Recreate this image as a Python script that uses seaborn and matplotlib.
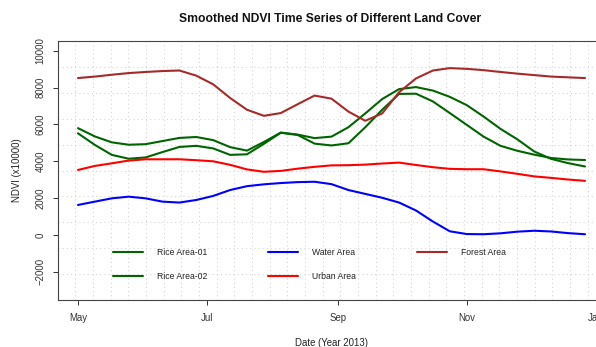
import matplotlib

matplotlib.use('Agg')

import numpy as np
import pandas as pd
import seaborn as sns
import matplotlib.dates as mdates
from matplotlib import pyplot as plt
from matplotlib.lines import Line2D

# 8-day composites, May 1 to Dec 27, 2013
dates = pd.date_range('2013-05-01', periods=31, freq='8D')

rice_01 = [5800, 5350, 5030, 4900, 4930, 5100, 5270, 5320, 5150, 4770, 4580,
           5050, 5560, 5450, 5260, 5340, 5850, 6600, 7380, 7920, 8030, 7840,
           7500, 7050, 6430, 5760, 5190, 4530, 4130, 3900, 3720]
rice_02 = [5520, 4890, 4350, 4140, 4210, 4500, 4780, 4840, 4700, 4350, 4380,
           4950, 5550, 5430, 4960, 4860, 4980, 5850, 6800, 7660, 7670, 7250,
           6620, 5980, 5340, 4840, 4570, 4360, 4180, 4100, 4070]
water = [1630, 1810, 1990, 2080, 1990, 1810, 1760, 1900, 2120, 2440, 2650,
         2750, 2820, 2870, 2890, 2760, 2440, 2230, 2020, 1760, 1330, 730,
         200, 50, 40, 90, 180, 230, 190, 100, 40]
urban = [3530, 3750, 3890, 4040, 4110, 4110, 4110, 4060, 4000, 3810, 3560,
         3430, 3480, 3600, 3700, 3780, 3790, 3820, 3880, 3930, 3800, 3680,
         3590, 3570, 3570, 3450, 3320, 3180, 3100, 3010, 2940]
forest = [8520, 8600, 8700, 8790, 8850, 8900, 8930, 8650, 8180, 7440, 6800,
          6470, 6620, 7100, 7570, 7400, 6700, 6200, 6600, 7750, 8500, 8930,
          9060, 9020, 8950, 8850, 8760, 8680, 8600, 8560, 8520]

labels = ['Rice Area-01', 'Rice Area-02', 'Water Area', 'Urban Area', 'Forest Area']
series = [rice_01, rice_02, water, urban, forest]
colors = ['#006400', '#006400', '#0000FF', '#FF0000', '#A52A2A']
palette = dict(zip(labels, colors))

df = pd.concat([pd.DataFrame({'date': dates, 'ndvi': s, 'cover': lab})
                for lab, s in zip(labels, series)], ignore_index=True)

sns.set_style('white')
plt.rcParams['font.family'] = ['Liberation Sans', 'DejaVu Sans']

fig = plt.figure(figsize=(5.96, 3.47), dpi=100)
ax = fig.add_axes([0.0968, 0.136, 0.9188, 0.7452])

sns.lineplot(data=df, x='date', y='ndvi', hue='cover', palette=palette,
             hue_order=labels, linewidth=1.5, ax=ax, legend=False)

# R style axis range: data range + 4%
pad = (dates[-1] - dates[0]) * 0.04
ax.set_xlim(dates[0] - pad, dates[-1] + pad)
ax.set_ylim(-3000 - 520, 10000 + 520)

ax.xaxis.set_major_locator(mdates.MonthLocator(bymonth=[1, 5, 7, 9, 11]))
ax.xaxis.set_major_formatter(mdates.DateFormatter('%b'))
ax.set_yticks(np.arange(-2000, 10001, 2000))

# grid(nx=31, ny=10) like equal cells
x0, x1 = ax.get_xlim()
y0, y1 = ax.get_ylim()
ax.set_xticks(np.linspace(x0, x1, 32)[1:-1], minor=True)
ax.set_yticks(np.linspace(y0, y1, 11)[1:-1], minor=True)
ax.grid(which='minor', color='#d3d3d3', linestyle=(0, (1, 3)), linewidth=0.75)
ax.grid(which='major', visible=False)
ax.set_axisbelow(True)

ax.tick_params(axis='both', which='minor', length=0)
ax.tick_params(axis='both', which='major', length=3.6, width=0.7, color='#333333',
               labelsize=6.9, labelcolor='#333333', pad=5, direction='out')
ax.tick_params(axis='x', which='major', pad=6, bottom=True)
ax.tick_params(axis='y', which='major', left=True)
for lab in ax.get_yticklabels():
    lab.set_rotation(90)
    lab.set_va('center')

for side in ['left', 'top', 'bottom', 'right']:
    ax.spines[side].set_color('#444444')
    ax.spines[side].set_linewidth(0.8)

ax.set_xlabel('Date (Year 2013)', fontsize=6.9, color='#222222', labelpad=10.5)
ax.set_ylabel('NDVI (x10000)', fontsize=6.9, color='#222222', labelpad=10)
fig.text(0.554, 0.945, 'Smoothed NDVI Time Series of Different Land Cover',
         ha='center', va='center', fontsize=8.7, fontweight='bold', color='#111111')

handles = [Line2D([], [], color=c, linewidth=1.5) for c in colors]
ax.legend(handles, labels, ncol=3, frameon=False, loc='upper left',
          bbox_to_anchor=(0.1004, 0.2), borderpad=0, borderaxespad=0,
          fontsize=6.2, handlelength=3.5, handletextpad=1.6,
          columnspacing=7.1, labelspacing=1.75, labelcolor='#222222')

fig.savefig('out.png', dpi=100)
